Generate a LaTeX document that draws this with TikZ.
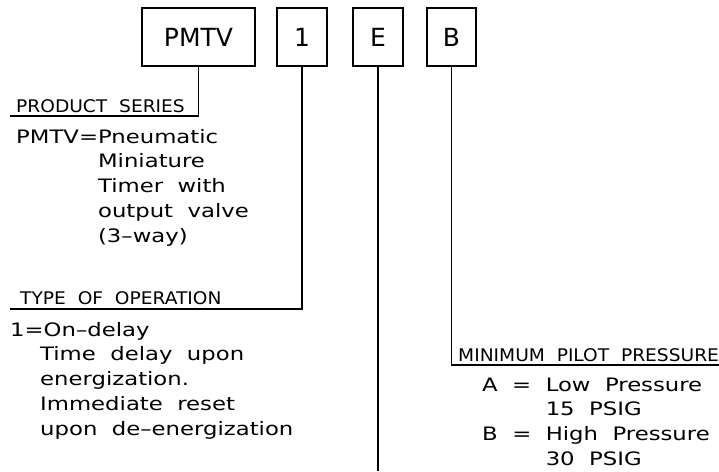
\documentclass[tikz,border=0pt]{standalone}
\usepackage{fontspec}
\setmainfont{DejaVu Sans}
\newfontfamily\boxfont{DejaVu Sans}
\newfontfamily\corpsfont[FakeStretch=1.23]{DejaVu Sans}
\newfontfamily\titrefont[FakeStretch=1.07]{DejaVu Sans}
\usepackage{tikz}
\tikzstyle{codebox}=[draw,line width=1.2pt,minimum height=58pt,inner sep=0pt,font=\boxfont\fontsize{25}{25}\selectfont]
\tikzstyle{lien} = [draw,line width=1.2pt,-]
\tikzstyle{titre} = [anchor=base west,inner sep=0pt,font=\titrefont\fontsize{17.4}{17.4}\selectfont]
\tikzstyle{texte} = [anchor=base west,inner sep=0pt,align=left,font=\corpsfont\fontsize{18.5}{24.8}\selectfont]

\begin{document}
\begin{tikzpicture}[x=1pt,y=-1pt]
    \useasboundingbox (0,0) rectangle (719,471);
    % cases du code
    \foreach \pos/\name/\txt/\w in {{(198.5,37)/pmtv/PMTV/113}, {(302,37)/un/1/50}, {(378,37)/e/E/50}, {(451.5,37)/b/B/49}}
        \node[codebox,minimum width=\w pt] (\name) at \pos {\txt};
    % fins des traits
    \coordinate (ps) at (10,116);
    \coordinate (to) at (10,309);
    \coordinate (mpp) at (719,365);
    \coordinate (fin) at (378,471);
    % traits
    \foreach \source/\dest in {pmtv/ps, un/to, b/mpp}
        \path[lien] (\source.south) |- (\dest);
    \path[lien] (e.south) -- (fin);
    % titres
    \node[titre] (tps) at (16,112) {PRODUCT\ \ SERIES};
    \node[titre] (tto) at (20,304) {TYPE\ \ OF\ \ OPERATION};
    \node[titre] (tmpp) at (458,361) {MINIMUM\ \ PILOT\ \ PRESSURE};
    % textes (ancre = ligne de base de la derniere ligne)
    \node[texte] (dps) at (16,242.2) {PMTV=Pneumatic\\
        \hphantom{PMTV=}Miniature\\
        \hphantom{PMTV=}Timer\ \ with\\
        \hphantom{PMTV=}output\ \ valve\\
        \hphantom{PMTV=}(3–way)};
    \node[texte] (dto) at (10,435.2) {1=On–delay\\
        \hspace*{30pt}Time\ \ delay\ \ upon\\
        \hspace*{30pt}energization.\\
        \hspace*{30pt}Immediate\ \ reset\\
        \hspace*{30pt}upon\ \ de–energization};
    \node[texte] (dmpp) at (482,465.4) {A\ \ =\ \ Low\ \ Pressure\\
        \hphantom{A\ \ =\ \ }15\ \ PSIG\\
        B\ \ =\ \ High\ \ Pressure\\
        \hphantom{A\ \ =\ \ }30\ \ PSIG};
\end{tikzpicture}
\end{document}
